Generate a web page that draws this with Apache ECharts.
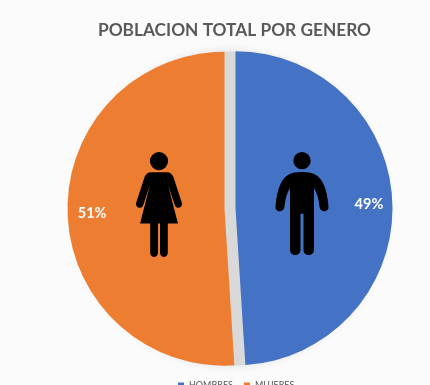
<!DOCTYPE html>
<html><head><meta charset="utf-8">
<style>html,body{margin:0;padding:0;background:#fff}#c{width:430px;height:385px}</style>
<script src="https://cdn.jsdelivr.net/npm/echarts@6/dist/echarts.min.js"></script></head>
<body><div id="c"></div>
<script>
const titleText = 'POBLACION TOTAL POR GENERO';
const categories = ['HOMBRES', 'MUJERES'];
const values = [49, 51];
const colors = ['#4472C4', '#ED7D31'];

const man = 'M0 0a8.7 8.7 0 1 1-.01 0z M0 20c11 0 17 3 21 11 3 6 5 15 5.5 24 .5 6-8.5 6-9 0-.5-7-2-13-5.5-19V98c0 7-10.5 7-10.5 0V62H-1.5V98c0 7-10.5 7-10.5 0V36c-3.5 6-5 12-5.5 19-.5 6-9.5 6-9 0 .5-9 2.5-18 5.5-24 4-8 10-11 21-11z';
const woman = 'M0 0a9 9 0 1 1-.01 0z M-8 20H8c3 0 4 1 6 4L22.5 50c1.5 5-5 7.5-6.8 3L9 33 18.7 71H8.7V100c0 5.5-7.7 5.5-7.7 0V71H-1V100c0 5.5-7.7 5.5-7.7 0V71H-18.7L-9 33-15.7 53c-1.8 4.5-8.3 2-6.8-3L-14 24c2-3 3-4 6-4z';

const chart = echarts.init(document.getElementById('c'));
const data = categories.map((n, i) => ({ name: n, value: values[i], selected: true, itemStyle: { color: colors[i] } }));
chart.setOption({
  animation: false,
  backgroundColor: '#fbfbfb',
  title: { text: titleText, left: 229.5, top: 17, textAlign: 'center',
    textStyle: { fontFamily: 'Lato', fontWeight: 'bold', fontSize: 17.3, color: '#595959' } },
  legend: { show: true, data: categories, selectedMode: false, top: 381, left: 178, itemWidth: 6, itemHeight: 6, itemGap: 11, padding: 0, z: 20,
    icon: 'rect', textStyle: { fontFamily: 'Lato', fontSize: 9, color: '#595959' } },
  series: [
    { type: 'pie', silent: true, z: 2, center: [230, 208.5], radius: [0, 157], startAngle: 90, clockwise: true,
      selectedMode: 'multiple', selectedOffset: 5.5,
      label: { show: false }, labelLine: { show: false },
      data: data },
    { type: 'pie', silent: true, z: 6, center: [230.5, 208.5], radius: [114, 157], startAngle: 90, clockwise: true,
      labelLine: { show: false }, legendHoverLink: false,
      label: { show: true, position: 'inside', formatter: '{d}%', color: '#fff', fontFamily: 'Lato', fontWeight: 'bold', fontSize: 14.5 },
      itemStyle: { color: 'transparent' },
      data: categories.map((n, i) => ({ name: n, value: values[i] })) },
    { type: 'custom', coordinateSystem: 'none', silent: true, z: 10, data: [0],
      renderItem: () => ({ type: 'group', children: [
        { type: 'path', x: 302, y: 152, shape: { pathData: man, layout: 'cover', x: -26.5, y: 0, width: 53, height: 103 }, style: { fill: '#000' } },
        { type: 'path', x: 159, y: 152, shape: { pathData: woman, layout: 'cover', x: -23, y: 0, width: 46, height: 105 }, style: { fill: '#000' } }
      ] }) }
  ],
  graphic: [
    { type: 'circle', z: -1, silent: true, shape: { cx: 230.5, cy: 208.5, r: 157 }, style: { fill: '#d9d9d9', shadowBlur: 10, shadowColor: 'rgba(0,0,0,0.12)' } }
  ]
});
</script></body></html>
